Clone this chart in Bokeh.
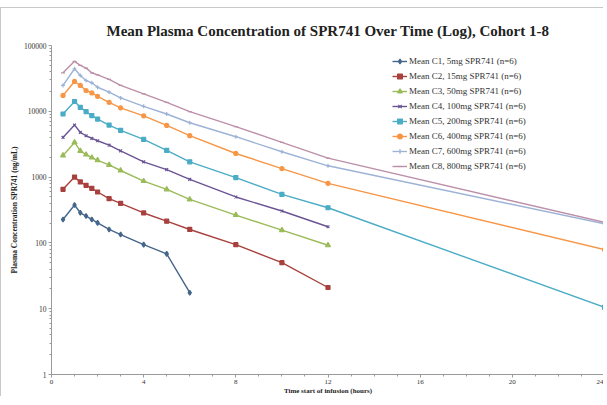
from bokeh.plotting import figure
from bokeh.models import FixedTicker, PrintfTickFormatter, Legend, LegendItem, Range1d
from bokeh.embed import file_html
from bokeh.resources import INLINE

# ---- data ----
t_c1 = [0.5, 1, 1.25, 1.5, 1.75, 2, 2.5, 3, 4, 5, 6]
t_12 = [0.5, 1, 1.25, 1.5, 1.75, 2, 2.5, 3, 4, 5, 6, 8, 10, 12]
t_24 = [0.5, 1, 1.25, 1.5, 1.75, 2, 2.5, 3, 4, 5, 6, 8, 10, 12, 24]

c1 = [227, 377, 287, 256, 227, 202, 160, 134, 94, 68, 17.5]
c2 = [652, 1000, 845, 750, 675, 594, 470, 400, 285, 214, 160, 94, 50, 21]
c3 = [2130, 3360, 2500, 2200, 1980, 1800, 1530, 1260, 870, 650, 458, 265, 156, 92]
c4 = [4010, 6180, 4780, 4250, 3870, 3570, 3060, 2510, 1706, 1300, 925, 499, 305, 176]
c5 = [9100, 14100, 11500, 9890, 8590, 7620, 6180, 5130, 3740, 2540, 1706, 982, 546, 342, 10.5]
c6 = [17400, 28400, 24700, 20700, 19000, 16900, 13700, 11300, 8530, 6110, 4256, 2286, 1349, 804, 79]
c7 = [24700, 44300, 35100, 29400, 27100, 23200, 19500, 15960, 11900, 9100, 6700, 4110, 2430, 1485, 195]
c8 = [38500, 57400, 49900, 45300, 38500, 35800, 30500, 24700, 18400, 13700, 9890, 5840, 3370, 1940, 205]

labels = [
    "Mean C1, 5mg SPR741 (n=6)",
    "Mean C2, 15mg SPR741 (n=6)",
    "Mean C3, 50mg SPR741 (n=6)",
    "Mean C4, 100mg SPR741 (n=6)",
    "Mean C5, 200mg SPR741 (n=6)",
    "Mean C6, 400mg SPR741 (n=6)",
    "Mean C7, 600mg SPR741 (n=6)",
    "Mean C8, 800mg SPR741 (n=6)",
]
x_ticks = [0, 4, 8, 12, 16, 20, 24]
y_ticks = [1, 10, 100, 1000, 10000, 100000]

series = [(t_c1, c1), (t_12, c2), (t_12, c3), (t_12, c4), (t_24, c5), (t_24, c6), (t_24, c7), (t_24, c8)]
colors = ["#45668A", "#A8403D", "#9BBB59", "#6A5495", "#4BACC6", "#F79646", "#9DB3D6", "#BC90A8"]
markers = ["diamond", "square", "triangle", "x", "square", "circle", "cross", "dash"]
msizes = [5, 4, 5, 4, 4, 4, 4, 4]

SERIF = "Liberation Serif"

p = figure(width=603, height=389, output_backend="svg", toolbar_location=None,
           y_axis_type="log", x_range=Range1d(0, 24), y_range=Range1d(1, 100000),
           min_border_left=50, min_border_right=0, min_border_top=37, min_border_bottom=18)
p.margin = (7, 0, 0, 0)
p.styles = {"border-left": "1px solid #c8c8c8", "border-top": "1px solid #c8c8c8"}

p.title.text = "Mean Plasma Concentration of SPR741 Over Time (Log), Cohort 1-8"
p.title.text_font = SERIF
p.title.text_font_style = "bold"
p.title.text_font_size = "15px"
p.title.text_color = "#222222"
p.title.align = "center"
p.title.standoff = 14

p.outline_line_color = None
p.xgrid.visible = False
p.ygrid.visible = False
p.background_fill_color = "white"
p.border_fill_color = "white"

items = []
for (tx, ys), col, mk, ms, lab in zip(series, colors, markers, msizes, labels):
    r1 = p.line(tx, ys, line_color=col, line_width=1.4)
    r2 = p.scatter(tx, ys, marker=mk, size=ms, fill_color=col, line_color=col, line_width=1.2)
    items.append(LegendItem(label=lab, renderers=[r1, r2]))

legend = Legend(items=items, location=(341, 202), padding=0, margin=0, spacing=3,
                glyph_width=15, glyph_height=12, label_height=12,
                label_text_font=SERIF, label_text_font_size="9px", label_text_color="#333333",
                label_standoff=2, border_line_color=None, background_fill_alpha=0)
p.add_layout(legend)

p.xaxis.ticker = FixedTicker(ticks=x_ticks, minor_ticks=list(range(0, 25)))
p.yaxis.ticker = FixedTicker(ticks=y_ticks,
                             minor_ticks=[m * d for d in [1, 10, 100, 1000, 10000] for m in range(2, 10)])
p.yaxis.formatter = PrintfTickFormatter(format="%d")

for ax in (p.xaxis[0], p.yaxis[0]):
    ax.axis_line_color = "#9a9a9a"
    ax.major_tick_line_color = "#9a9a9a"
    ax.minor_tick_line_color = "#9a9a9a"
    ax.major_tick_out = 3
    ax.major_tick_in = 0
    ax.minor_tick_out = 2
    ax.minor_tick_in = 0
    ax.major_label_text_font = SERIF
    ax.major_label_text_color = "#333333"
    ax.axis_label_text_font = SERIF
    ax.axis_label_text_font_style = "bold"
    ax.axis_label_text_color = "#222222"

p.xaxis.major_label_text_font_size = "7px"
p.xaxis.axis_label_text_font_size = "7px"
p.yaxis.major_label_text_font_size = "7.5px"
p.yaxis.axis_label_text_font_size = "7.5px"

p.xaxis.axis_label = "Time start of infusion (hours)"
p.xaxis.major_label_standoff = 2
p.xaxis.axis_label_standoff = 0
p.yaxis.axis_label = "Plasma Concentration SPR741 (ng/mL)"
p.yaxis.major_label_standoff = 2
p.yaxis.axis_label_standoff = 2

open("out.html", "w").write(file_html(p, INLINE))
